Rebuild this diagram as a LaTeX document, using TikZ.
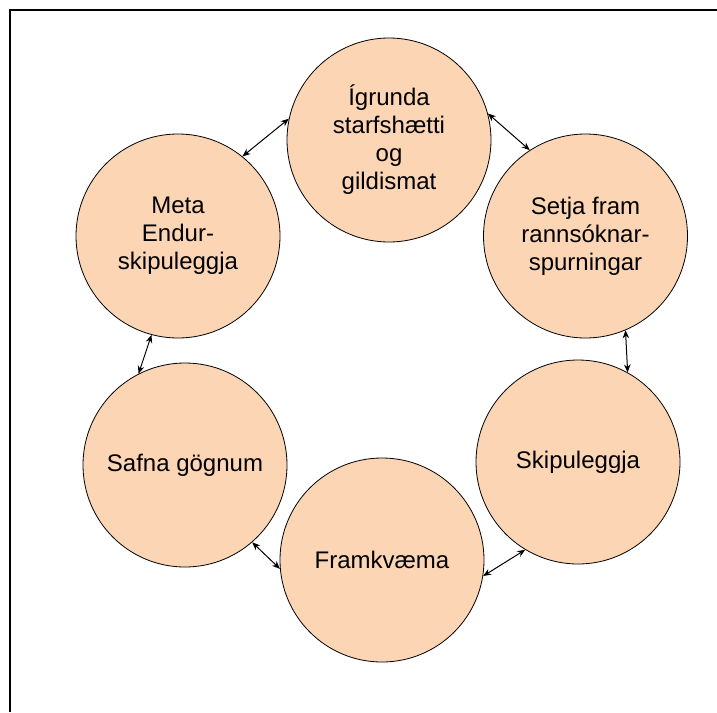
\documentclass[tikz,border=0pt]{standalone}
\usepackage{fontspec}
\setmainfont{Liberation Sans}
\usetikzlibrary{arrows.meta}
\definecolor{peach}{RGB}{252,213,181}
\begin{document}
\begin{tikzpicture}[x=1pt,y=-1pt,
  stage/.style={circle, draw=black, line width=0.8pt, fill=peach, minimum size=204pt, inner sep=0pt, align=center, font=\fontsize{24}{28}\selectfont},
  link/.style={<->, >={Stealth[length=8pt,width=6.5pt]}, line width=1pt}]
\useasboundingbox (0,0) rectangle (717,712);
\coordinate (fbl) at (10,712);
\coordinate (ftl) at (10,10);
\coordinate (ftr) at (717,10);
\draw[line width=2pt] (fbl) -- (ftl) -- (ftr);

\node[stage] (igr) at (389,140) {Ígrunda\\starfshætti\\og\\gildismat};
\node[stage] (setja) at (585.5,236) {Setja fram\\rannsóknar-\\spurningar};
\node[stage] (skip) at (578,462) {Skipuleggja};
\node[stage] (fram) at (382,560) {Framkvæma};
\node[stage] (safna) at (185,465) {Safna gögnum};
\node[stage] (meta) at (178,236) {Meta\\Endur-\\skipuleggja};

\draw[link] (meta.51) -- (igr.168);
\draw[link] (igr.15) -- (setja.123);
\draw[link] (setja.293.6) -- (skip.61.2);
\draw[link] (skip.239.6) -- (fram.-9.5);
\draw[link] (fram.185.6) -- (safna.-49.7);
\draw[link] (safna.117.4) -- (meta.255);
\end{tikzpicture}
\end{document}
